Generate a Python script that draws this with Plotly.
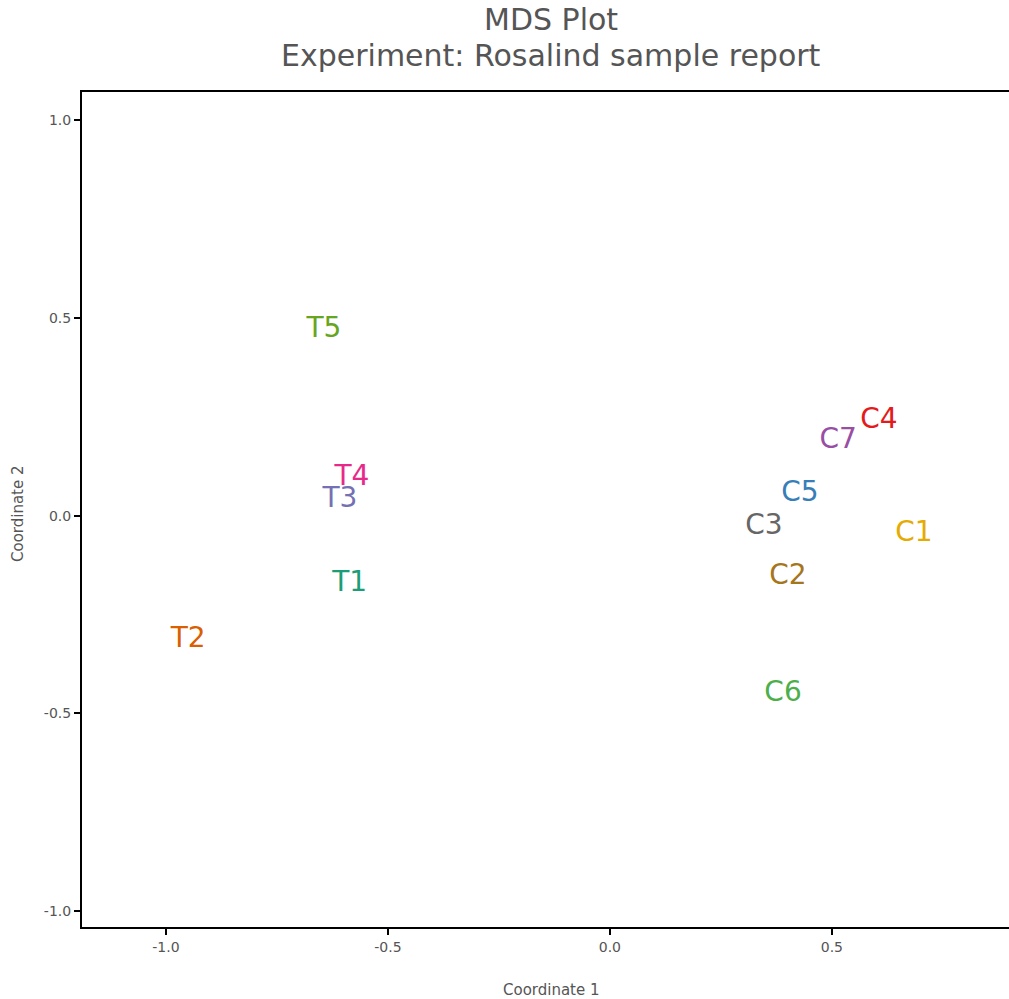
import plotly.graph_objects as go

# MDS coordinates for each sample
samples = ["T5", "C4", "C7", "T4", "T3", "C5", "C3", "C1", "C2", "T1", "T2", "C6"]
coord1 = [-0.644, 0.606, 0.514, -0.581, -0.608, 0.428, 0.347, 0.685, 0.401, -0.586, -0.950, 0.390]
coord2 = [0.470, 0.240, 0.189, 0.096, 0.040, 0.055, -0.028, -0.046, -0.155, -0.172, -0.314, -0.450]

x_ticks = [-1.0, -0.5, 0.0, 0.5]
y_ticks = [-1.0, -0.5, 0.0, 0.5, 1.0]

sample_colors = {
    "T1": "#1b9e77", "T2": "#d95f02", "T3": "#7570b3", "T4": "#e7298a",
    "T5": "#66a61e", "C1": "#e6ab02", "C2": "#a6761d", "C3": "#666666",
    "C4": "#e41a1c", "C5": "#377eb8", "C6": "#4daf4a", "C7": "#984ea3",
}

FONT = "DejaVu Sans"
W, H = 1009, 999
ML, MR, MT, MB = 82, 0, 92, 72
PW, PH = W - ML - MR, H - MT - MB


def px_to_paper_x(px):
    return (px - ML) / PW


def px_to_paper_y(py):
    return (H - MB - py) / PH


fig = go.Figure()
fig.add_trace(go.Scatter(
    x=coord1, y=coord2, text=samples, mode="text",
    textposition="middle center",
    textfont=dict(family=FONT, size=28, color=[sample_colors[s] for s in samples]),
    hoverinfo="text", showlegend=False,
))

axis_common = dict(
    showgrid=False, zeroline=False, showline=True, linecolor="black", linewidth=2,
    ticks="outside", ticklen=6, tickwidth=2, tickcolor="black",
    tickfont=dict(family=FONT, size=14, color="#555555"),
)

title_font = dict(family=FONT, size=30, color="#555555")
label_font = dict(family=FONT, size=15, color="#555555")

fig.update_layout(
    width=W, height=H,
    margin=dict(l=ML, r=MR, t=MT, b=MB, autoexpand=False),
    paper_bgcolor="white", plot_bgcolor="white",
    font=dict(family=FONT, color="#555555"),
    xaxis=dict(range=[-1.189, 0.899], tickvals=x_ticks, ticktext=[f"{v:.1f}" for v in x_ticks],
               mirror=True, **axis_common),
    yaxis=dict(range=[-1.040, 1.071], tickvals=y_ticks, ticktext=[f"{v:.1f}" for v in y_ticks],
               **axis_common),
    annotations=[
        dict(text="MDS Plot", xref="paper", yref="paper",
             x=px_to_paper_x(551), y=px_to_paper_y(20),
             xanchor="center", yanchor="middle", showarrow=False, font=title_font),
        dict(text="Experiment: Rosalind sample report", xref="paper", yref="paper",
             x=px_to_paper_x(551), y=px_to_paper_y(56),
             xanchor="center", yanchor="middle", showarrow=False, font=title_font),
        dict(text="Coordinate 1", xref="paper", yref="paper",
             x=px_to_paper_x(551), y=px_to_paper_y(990),
             xanchor="center", yanchor="middle", showarrow=False, font=label_font),
        dict(text="Coordinate 2", xref="paper", yref="paper", textangle=-90,
             x=px_to_paper_x(18), y=px_to_paper_y(514),
             xanchor="center", yanchor="middle", showarrow=False, font=label_font),
    ],
)

fig.write_html("out.html")
